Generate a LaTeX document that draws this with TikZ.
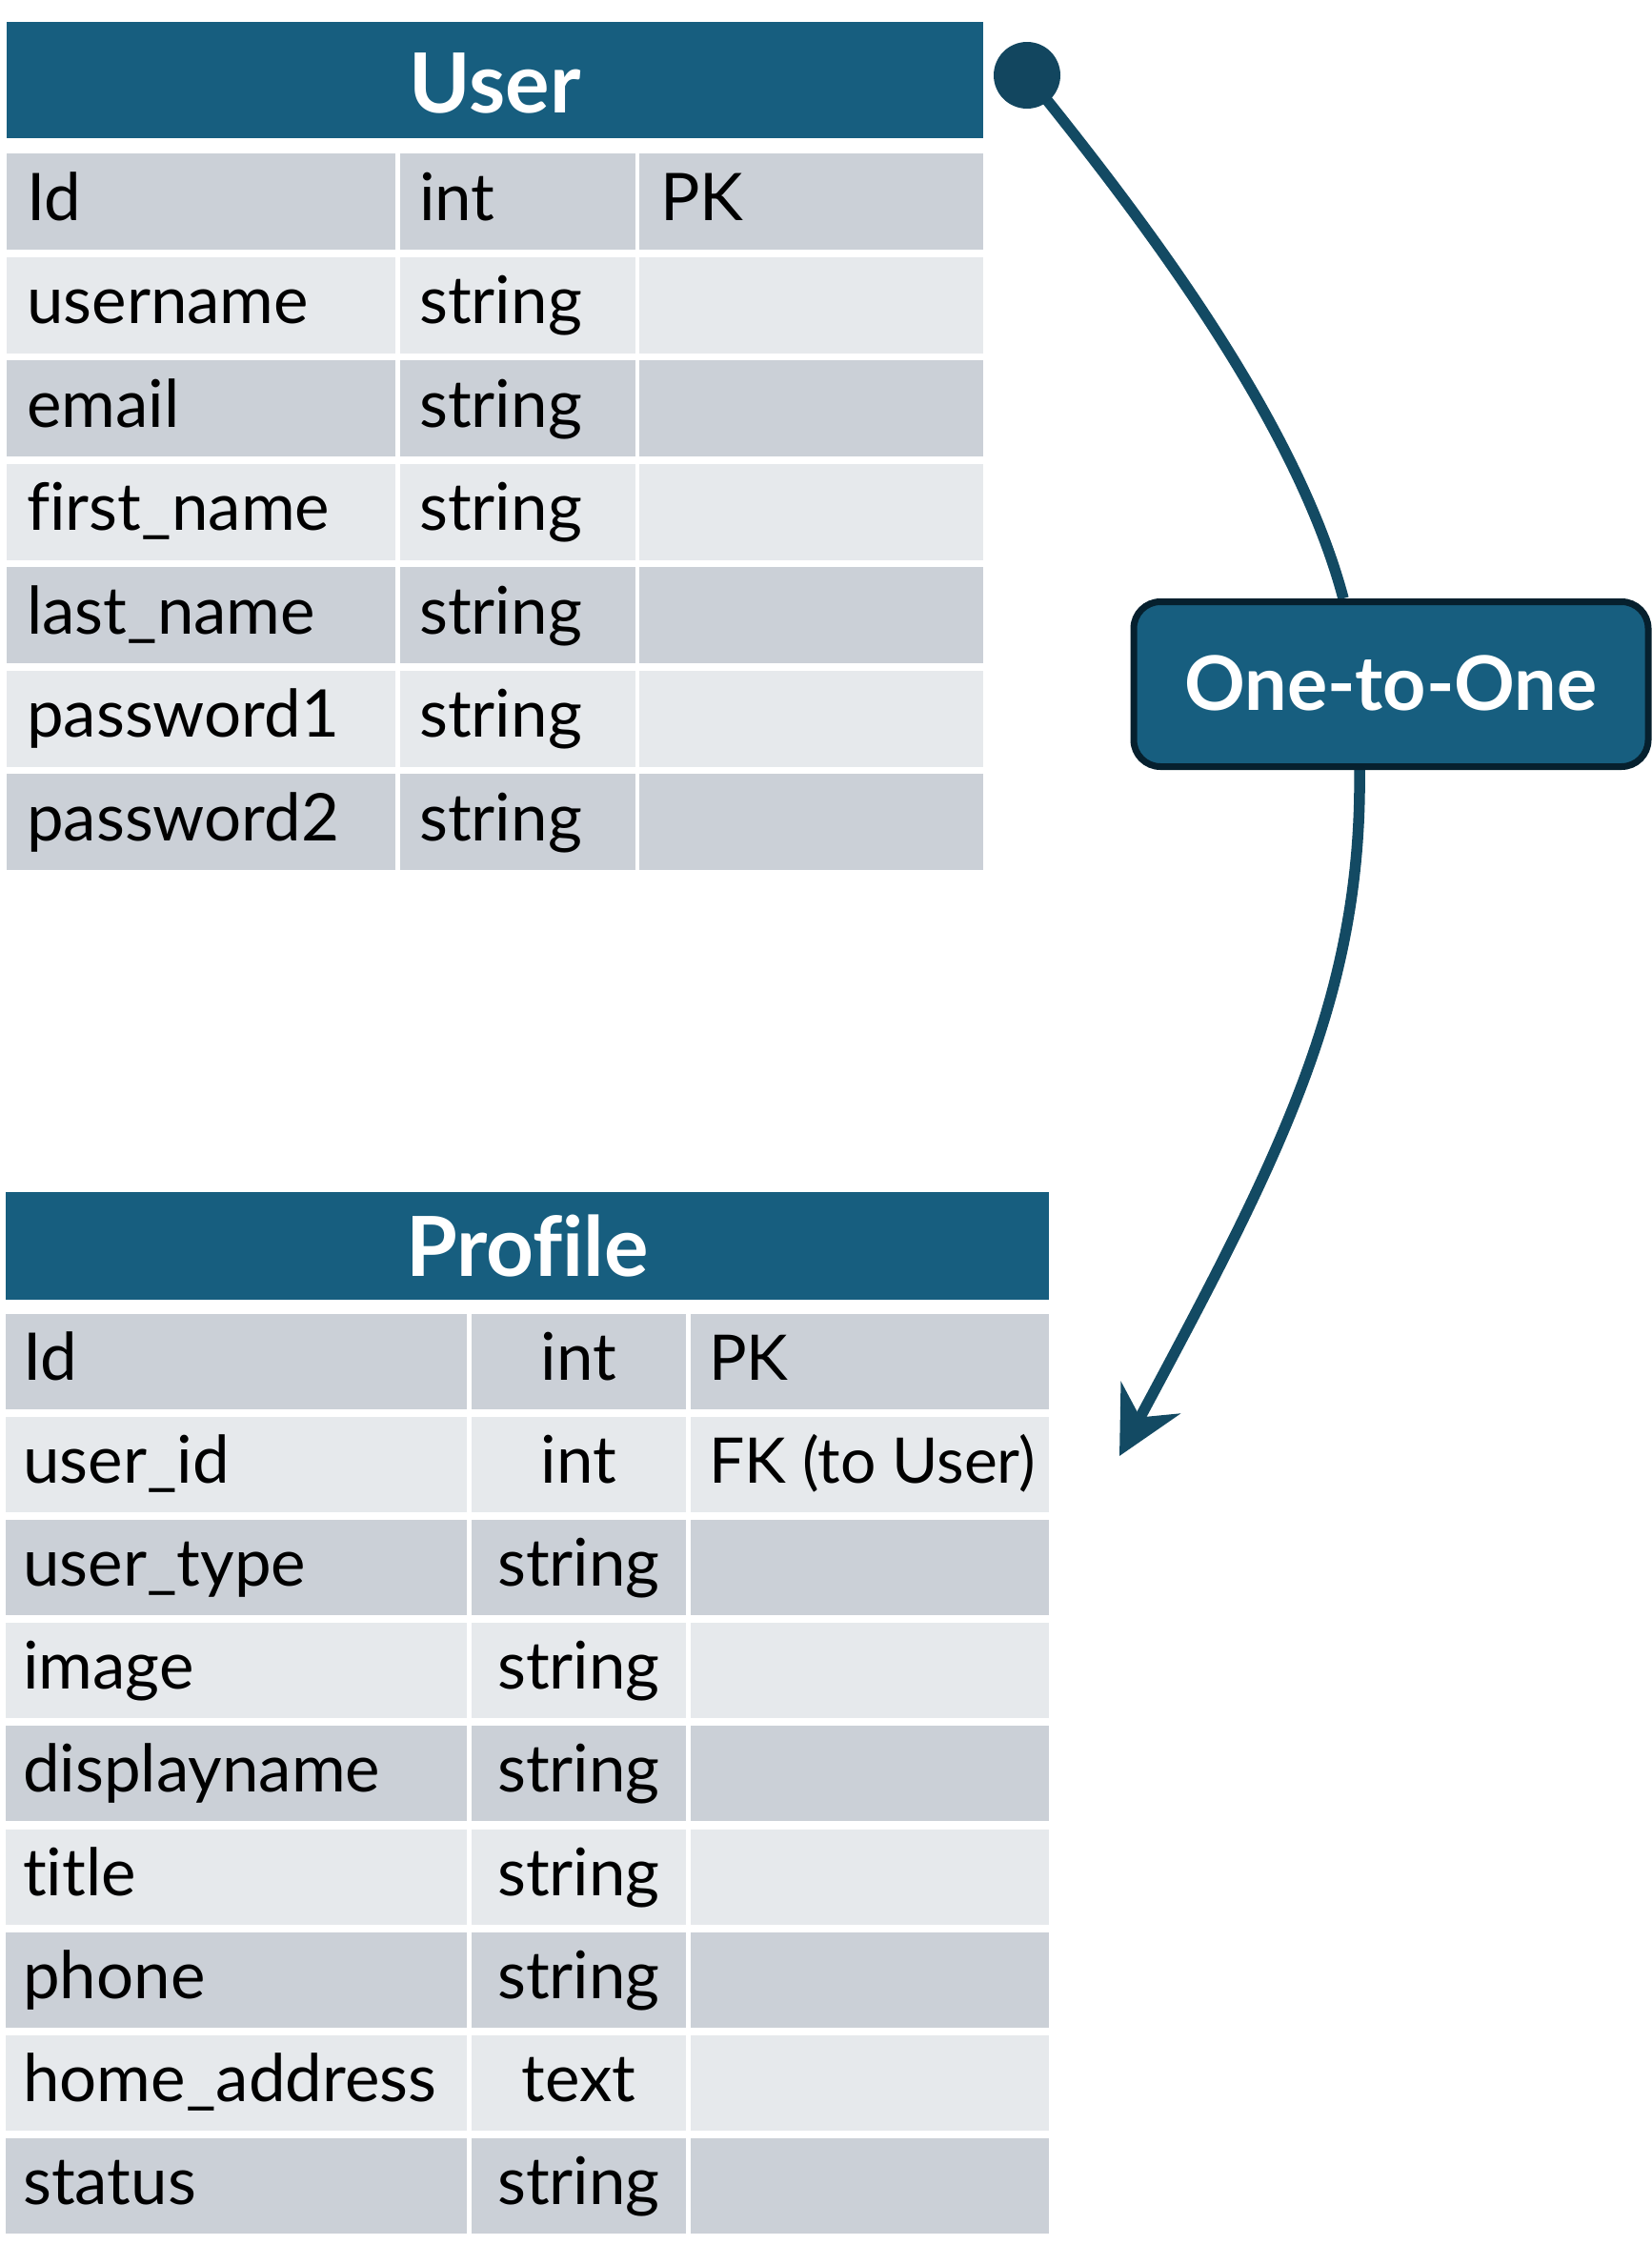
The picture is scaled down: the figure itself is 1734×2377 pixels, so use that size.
\documentclass[tikz,border=0pt]{standalone}
\usepackage{fontspec}
\setmainfont{Lato}[Ligatures=NoCommon]
\usetikzlibrary{arrows.meta}
\definecolor{hdr}{RGB}{23,94,127}
\definecolor{rowd}{RGB}{203,208,215}
\definecolor{rowl}{RGB}{230,233,236}
\definecolor{lnk}{RGB}{19,74,99}
\definecolor{dotc}{RGB}{18,70,95}
\definecolor{bord}{RGB}{6,32,46}
\pgfdeclarelayer{back}
\pgfdeclarelayer{bg}
\pgfsetlayers{back,bg,main}
\tikzset{
  cell/.style={anchor=north west, inner sep=0pt, outer sep=0pt, minimum height=101pt},
  ftxt/.style={anchor=base west, inner sep=0pt, font=\fontsize{69}{80}\selectfont, text=black},
  ntxt/.style={anchor=base west, inner sep=0pt, font=\fontsize{66}{80}\selectfont, text=black},
  ctxt/.style={anchor=base, inner sep=0pt, font=\fontsize{69}{80}\selectfont, text=black},
  hbox/.style={anchor=north west, inner sep=0pt, outer sep=0pt, fill=hdr},
  htxt/.style={anchor=base, inner sep=0pt, font=\bfseries\fontsize{87}{100}\selectfont, text=white},
  relbox/.style={rounded corners=28pt, draw=bord, line width=7pt, fill=hdr, inner sep=0pt,
    minimum width=540pt, minimum height=173pt},
  reltxt/.style={anchor=base, inner sep=0pt, font=\bfseries\fontsize{79}{90}\selectfont, text=white},
  conn/.style={draw=lnk, line width=11.5pt},
  enddot/.style={circle, fill=dotc, inner sep=0pt, minimum size=70pt}
}
\begin{document}
\begin{tikzpicture}[x=1pt,y=-1pt]
\useasboundingbox (0,0) rectangle (1734,2377);
\begin{pgfonlayer}{back}
\fill[white] (0,0) rectangle (1734,2377);
\end{pgfonlayer}

% ---------- User table ----------
\node[hbox, minimum width=1025pt, minimum height=122pt] (uhead) at (7,23) {};
\node[htxt] (utitle) at ([yshift=-34pt]uhead.center) {User};
\foreach \i/\a/\b/\c in {0/Id/int/PK,1/username/string/,2/email/string/,3/first\_name/string/,4/last\_name/string/,5/password1/string/,6/password2/string/}{
  \pgfmathsetmacro\rtop{161+\i*108.5}
  \ifodd\i \def\rc{rowl}\else\def\rc{rowd}\fi
  \node[cell, fill=\rc, minimum width=408pt] (u\i a) at (7,\rtop) {};
  \node[cell, fill=\rc, minimum width=247pt] (u\i b) at (420,\rtop) {};
  \node[cell, fill=\rc, minimum width=361pt] (u\i c) at (671,\rtop) {};
  \node[ftxt] (u\i at) at ([xshift=21pt,yshift=-19.5pt]u\i a.west) {\a};
  \node[ftxt] (u\i bt) at ([xshift=20pt,yshift=-19.5pt]u\i b.west) {\b};
  \node[ftxt] (u\i ct) at ([xshift=22pt,yshift=-19.5pt]u\i c.west) {\c};
}

% ---------- Profile table ----------
\node[hbox, minimum width=1095pt, minimum height=113pt] (phead) at (6,1251) {};
\node[htxt] (ptitle) at ([yshift=-31.5pt]phead.center) {Profile};
\foreach \i/\a/\b/\c in {0/Id/int/PK,1/user\_id/int/FK (to User),2/user\_type/string/,3/image/string/,4/displayname/string/,5/title/string/,6/phone/string/,7/home\_address/text/,8/status/string/}{
  \pgfmathsetmacro\rtop{1379+\i*108.1}
  \ifodd\i \def\rc{rowl}\else\def\rc{rowd}\fi
  \node[cell, fill=\rc, minimum width=484pt, minimum height=100pt] (p\i a) at (6,\rtop) {};
  \node[cell, fill=\rc, minimum width=225pt, minimum height=100pt] (p\i b) at (495,\rtop) {};
  \node[cell, fill=\rc, minimum width=376pt, minimum height=100pt] (p\i c) at (725,\rtop) {};
  \node[ftxt] (p\i at) at ([xshift=18pt,yshift=-19.5pt]p\i a.west) {\a};
  \node[ctxt] (p\i bt) at ([yshift=-19.5pt]p\i b.center) {\b};
  \node[ntxt] (p\i ct) at ([xshift=19pt,yshift=-19.5pt]p\i c.west) {\c};
}

% ---------- relationship ----------
\node[relbox] (rel) at (1460,718) {};
\node[reltxt] (reltext) at ([yshift=-27pt]rel.center) {One-to-One};
\node[enddot] (dot) at (1078,79) {};
\coordinate (tip) at (1175,1528);
\begin{pgfonlayer}{bg}
  \draw[conn] (dot.center) .. controls (1200,230) and (1360,440) .. ([xshift=-50pt]rel.north);
  \draw[conn, -{Stealth[length=69pt,width=70pt,inset=23pt]}] ([xshift=-33pt]rel.south) .. controls (1430,1050) and (1340,1220) .. (tip);
\end{pgfonlayer}
\end{tikzpicture}
\end{document}
